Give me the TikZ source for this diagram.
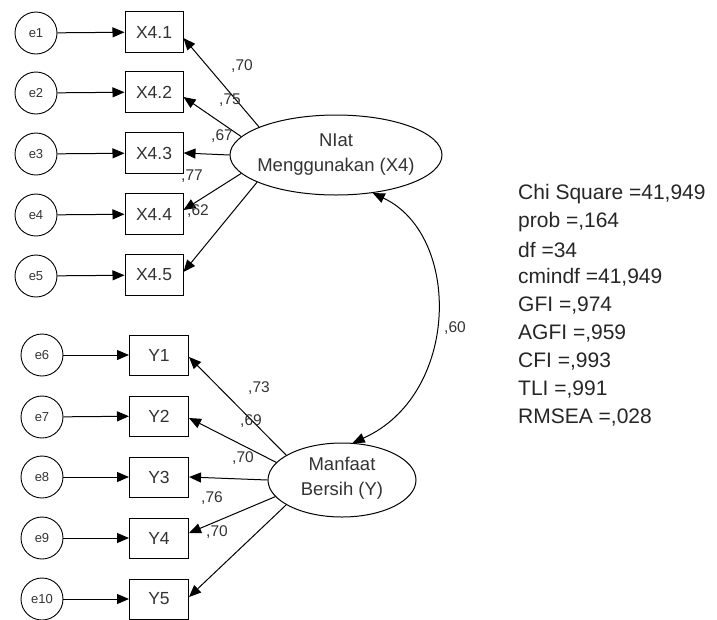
\documentclass[tikz,border=0pt]{standalone}
\usepackage{fontspec}
\setmainfont{Liberation Sans}
\usetikzlibrary{arrows.meta,shapes.geometric}
\tikzset{
  err/.style={circle,draw,line width=0.9pt,minimum size=42pt,inner sep=0pt,font=\fontsize{13}{15}\selectfont,text=black!80},
  obs/.style={rectangle,draw,line width=1pt,minimum width=58pt,minimum height=41pt,inner sep=0pt,font=\fontsize{17.5}{20}\selectfont,text=black!80},
  lat/.style={ellipse,draw,line width=1pt,inner sep=0pt},
  lattext/.style={align=center,font=\fontsize{18.5}{25}\selectfont,text=black!80},
  arr/.style={line width=1pt,-{Triangle[length=12pt,width=10pt]}},
  coef/.style={font=\fontsize{15.5}{17}\selectfont,text=black!80,inner sep=0pt},
  stat/.style={anchor=west,font=\fontsize{21}{24}\selectfont,text=black!85,inner sep=0pt}
}
\begin{document}
\begin{tikzpicture}[x=1pt,y=-1pt]
\useasboundingbox (0,0) rectangle (717,619);
% top group
\foreach \i/\y in {1/33,2/93,3/154,4/215,5/276}{
  \node[err] (e\i) at (36,\y) {e\i};
}
\node[obs] (x1) at (154,32) {X4.1};
\node[obs] (x2) at (154,92) {X4.2};
\node[obs] (x3) at (154,153) {X4.3};
\node[obs] (x4) at (154,214) {X4.4};
\node[obs] (x5) at (154,275) {X4.5};
\foreach \i in {1,...,5}{ \draw[arr] (e\i) -- (x\i); }
\node[lat,minimum width=212pt,minimum height=80pt] (niat) at (336,155) {};
\node[lattext] (niatlabel) at (336,155) {NIat\\Menggunakan (X4)};
\draw[arr] (niat.160.5) -- ([yshift=-6pt]x1.east);
\draw[arr] (niat.169.4) -- ([yshift=-5pt]x2.east);
\draw[arr] (niat.180) -- (x3.east);
\draw[arr] (niat.191) -- ([yshift=4pt]x4.east);
\draw[arr] (niat.199.5) -- ([yshift=3pt]x5.east);
\node[coef] (c1) at (242,66) {,70};
\node[coef] (c2) at (230,100) {,75};
\node[coef] (c3) at (222,136) {,67};
\node[coef] (c4) at (192,176) {,77};
\node[coef] (c5) at (198,211) {,62};
% bottom group
\foreach \i/\y in {6/355,7/417,8/477,9/538,10/599}{
  \node[err] (e\i) at (42,\y) {e\i};
}
\node[obs,minimum width=59pt,minimum height=40pt] (y1) at (159,355) {Y1};
\node[obs,minimum width=59pt,minimum height=40pt] (y2) at (159,416) {Y2};
\node[obs,minimum width=59pt,minimum height=40pt] (y3) at (159,477) {Y3};
\node[obs,minimum width=59pt,minimum height=40pt] (y4) at (159,538) {Y4};
\node[obs,minimum width=59pt,minimum height=40pt] (y5) at (159,599) {Y5};
\foreach \i/\j in {6/1,7/2,8/3,9/4,10/5}{ \draw[arr] (e\i) -- (y\j); }
\node[lat,minimum width=148pt,minimum height=74pt] (manf) at (342,480) {};
\node[lattext] (manflabel) at (342,478) {Manfaat\\Bersih (Y)};
\draw[arr] (manf.156) -- ([yshift=-2pt]y1.east);
\draw[arr] (manf.165) -- ([yshift=-2pt]y2.east);
\draw[arr] (manf.180) -- (y3.east);
\draw[arr] (manf.194) -- ([yshift=5pt]y4.east);
\draw[arr] (manf.204) -- ([yshift=2pt]y5.east);
\node[coef] (d1) at (259,388) {,73};
\node[coef] (d2) at (251,421) {,69};
\node[coef] (d3) at (243,458) {,70};
\node[coef] (d4) at (212,498) {,76};
\node[coef] (d5) at (217,532) {,70};
% covariance
\draw[line width=1pt,{Triangle[length=12pt,width=10pt]}-{Triangle[length=12pt,width=10pt]}]
  (niat.314) .. controls (462,235) and (460,395) .. (manf.74.6);
\node[coef] (cov) at (455,328) {,60};
% statistics
\node[stat] (s0) at (518,194.0) {Chi Square =41,949};
\node[stat] (s1) at (518,221.9) {prob =,164};
\node[stat] (s2) at (518,249.8) {df =34};
\node[stat] (s3) at (518,277.7) {cmindf =41,949};
\node[stat] (s4) at (518,305.6) {GFI =,974};
\node[stat] (s5) at (518,333.5) {AGFI =,959};
\node[stat] (s6) at (518,361.4) {CFI =,993};
\node[stat] (s7) at (518,389.3) {TLI =,991};
\node[stat] (s8) at (518,417.2) {RMSEA =,028};
\end{tikzpicture}
\end{document}
